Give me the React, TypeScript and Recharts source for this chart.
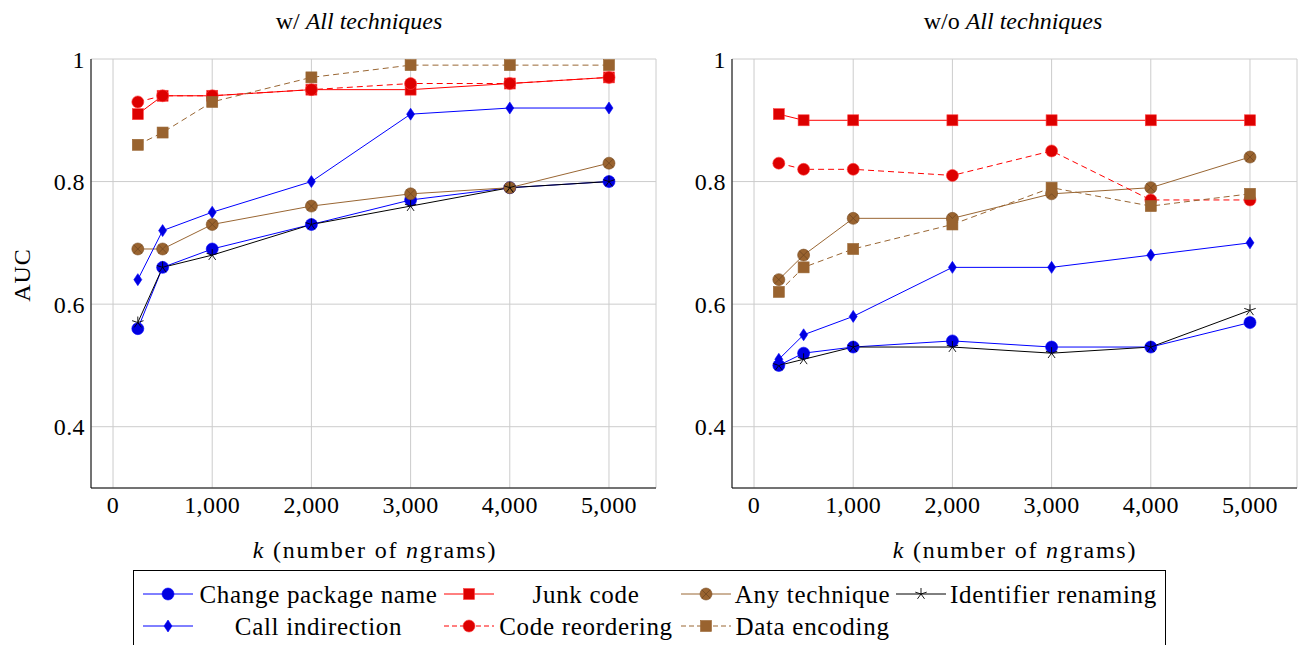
import React from "react";
import { LineChart, Line, XAxis, YAxis, CartesianGrid } from "recharts";

// k = number of n-grams (x positions of every point)
const kValues = [250, 500, 1000, 2000, 3000, 4000, 5000];
const xTicks = [0, 1000, 2000, 3000, 4000, 5000];
const yTicks = [0.4, 0.6, 0.8, 1];

// panel 1: w/ All techniques
const withChangePackage = [0.56, 0.66, 0.69, 0.73, 0.77, 0.79, 0.8];
const withJunkCode = [0.91, 0.94, 0.94, 0.95, 0.95, 0.96, 0.97];
const withAnyTechnique = [0.69, 0.69, 0.73, 0.76, 0.78, 0.79, 0.83];
const withIdentifierRenaming = [0.57, 0.66, 0.68, 0.73, 0.76, 0.79, 0.8];
const withCallIndirection = [0.64, 0.72, 0.75, 0.8, 0.91, 0.92, 0.92];
const withCodeReordering = [0.93, 0.94, 0.94, 0.95, 0.96, 0.96, 0.97];
const withDataEncoding = [0.86, 0.88, 0.93, 0.97, 0.99, 0.99, 0.99];

// panel 2: w/o All techniques
const withoutChangePackage = [0.5, 0.52, 0.53, 0.54, 0.53, 0.53, 0.57];
const withoutJunkCode = [0.91, 0.9, 0.9, 0.9, 0.9, 0.9, 0.9];
const withoutAnyTechnique = [0.64, 0.68, 0.74, 0.74, 0.78, 0.79, 0.84];
const withoutIdentifierRenaming = [0.5, 0.51, 0.53, 0.53, 0.52, 0.53, 0.59];
const withoutCallIndirection = [0.51, 0.55, 0.58, 0.66, 0.66, 0.68, 0.7];
const withoutCodeReordering = [0.83, 0.82, 0.82, 0.81, 0.85, 0.77, 0.77];
const withoutDataEncoding = [0.62, 0.66, 0.69, 0.73, 0.79, 0.76, 0.78];

const FONT = "'Liberation Serif', 'Times New Roman', serif";
const BLUE = "#0000ff";
const RED = "#ff0000";
const BROWN = "#996633";

type MarkerKind = "circle" | "square" | "otimes" | "star" | "diamond";

interface SeriesStyle {
  key: string;
  name: string;
  color: string;
  fill: string;
  marker: MarkerKind;
  dashed: boolean;
}

const seriesStyles: SeriesStyle[] = [
  { key: "changePackage", name: "Change package name", color: BLUE, fill: "#0000e0", marker: "circle", dashed: false },
  { key: "junkCode", name: "Junk code", color: RED, fill: "#dd0000", marker: "square", dashed: false },
  { key: "anyTechnique", name: "Any technique", color: BROWN, fill: "#99632f", marker: "otimes", dashed: false },
  { key: "identifierRenaming", name: "Identifier renaming", color: "#000000", fill: "#000000", marker: "star", dashed: false },
  { key: "callIndirection", name: "Call indirection", color: BLUE, fill: "#0000e0", marker: "diamond", dashed: false },
  { key: "codeReordering", name: "Code reordering", color: RED, fill: "#dd0000", marker: "circle", dashed: true },
  { key: "dataEncoding", name: "Data encoding", color: BROWN, fill: "#99632f", marker: "square", dashed: true },
];

function buildRows(cols: Record<string, number[]>) {
  return kValues.map((k, i) => {
    const row: Record<string, number> = { k };
    Object.keys(cols).forEach((key) => (row[key] = cols[key][i]));
    return row;
  });
}

const withRows = buildRows({
  changePackage: withChangePackage,
  junkCode: withJunkCode,
  anyTechnique: withAnyTechnique,
  identifierRenaming: withIdentifierRenaming,
  callIndirection: withCallIndirection,
  codeReordering: withCodeReordering,
  dataEncoding: withDataEncoding,
});

const withoutRows = buildRows({
  changePackage: withoutChangePackage,
  junkCode: withoutJunkCode,
  anyTechnique: withoutAnyTechnique,
  identifierRenaming: withoutIdentifierRenaming,
  callIndirection: withoutCallIndirection,
  codeReordering: withoutCodeReordering,
  dataEncoding: withoutDataEncoding,
});

function Marker({ cx, cy, s }: { cx: number; cy: number; s: SeriesStyle }) {
  const edge = s.color === RED ? "#ff4040" : s.color;
  switch (s.marker) {
    case "circle":
      return <circle cx={cx} cy={cy} r={6} fill={s.fill} stroke={edge} strokeWidth={0.6} />;
    case "square":
      return <rect x={cx - 5.5} y={cy - 5.5} width={11} height={11} fill={s.fill} stroke={edge} strokeWidth={0.6} />;
    case "diamond":
      return (
        <polygon
          points={`${cx},${cy - 6} ${cx + 4},${cy} ${cx},${cy + 6} ${cx - 4},${cy}`}
          fill={s.fill}
          stroke={edge}
          strokeWidth={0.6}
        />
      );
    case "otimes": {
      const d = 6 * Math.SQRT1_2;
      return (
        <g>
          <circle cx={cx} cy={cy} r={6} fill={s.fill} stroke="#7a4f26" strokeWidth={0.6} />
          <path d={`M${cx - d},${cy - d}L${cx + d},${cy + d}M${cx - d},${cy + d}L${cx + d},${cy - d}`} stroke="#6b4420" strokeWidth={0.7} />
        </g>
      );
    }
    case "star": {
      let p = "";
      for (let i = 0; i < 5; i++) {
        const a = -Math.PI / 2 + (i * 2 * Math.PI) / 5;
        p += `M${cx},${cy}L${cx + 6 * Math.cos(a)},${cy + 6 * Math.sin(a)}`;
      }
      return <path d={p} stroke="#000" strokeWidth={0.9} fill="none" />;
    }
  }
  return null;
}

const tickStyle = { fontSize: 24, fill: "#000", fontFamily: FONT, letterSpacing: 0.4 };

function Panel({ rows, left }: { rows: Record<string, number>[]; left: number }) {
  return (
    <div style={{ position: "absolute", left, top: 0 }}>
      <LineChart width={680} height={560} data={rows} margin={{ top: 59, right: 24, left: 31, bottom: 0 }}>
        <CartesianGrid stroke="#cccccc" strokeWidth={1} />
        <XAxis
          dataKey="k"
          type="number"
          domain={[-222, 5474]}
          ticks={xTicks}
          allowDataOverflow
          tickFormatter={(v: number) => v.toLocaleString("en-US")}
          tick={tickStyle}
          tickLine={false}
          tickSize={6}
          tickMargin={2}
          axisLine={{ stroke: "#000" }}
          height={72}
        />
        <XAxis xAxisId="top" orientation="top" type="number" domain={[-222, 5474]} tick={false} tickLine={false} axisLine={{ stroke: "#000" }} height={0} />
        <YAxis
          type="number"
          domain={[0.3, 1]}
          ticks={yTicks}
          allowDataOverflow
          tickFormatter={(v: number) => (v === 1 ? "1" : v.toFixed(1))}
          tick={tickStyle}
          tickLine={false}
          tickSize={4}
          tickMargin={2}
          axisLine={{ stroke: "#000" }}
          width={60}
        />
        <YAxis yAxisId="right" orientation="right" type="number" domain={[0.3, 1]} tick={false} tickLine={false} axisLine={{ stroke: "#000" }} width={0} />
        {seriesStyles.map((s) => (
          <Line
            key={s.key}
            dataKey={s.key}
            name={s.name}
            type="linear"
            stroke={s.color}
            strokeWidth={1}
            strokeDasharray={s.dashed ? "6 4" : undefined}
            isAnimationActive={false}
            dot={(p: any) => <Marker key={`${s.key}-${p.index}`} cx={p.cx} cy={p.cy} s={s} />}
            activeDot={false}
          />
        ))}
      </LineChart>
    </div>
  );
}

function LegendSample({ s }: { s: SeriesStyle }) {
  return (
    <svg width={50} height={20} style={{ position: "absolute", left: 0, top: -10 }}>
      <line x1={0} y1={10} x2={50} y2={10} stroke={s.color} strokeWidth={1} strokeDasharray={s.dashed ? "5 3" : undefined} />
      <Marker cx={25} cy={10} s={s} />
    </svg>
  );
}

// legend cells: [series index, sample left, text column left, text column width, row]
const legendCells: [number, number, number, number, number][] = [
  [0, 9, 62, 245, 0],
  [1, 310, 364, 176, 0],
  [2, 547, 600, 157, 0],
  [3, 762, 816, 206, 0],
  [4, 9, 62, 245, 1],
  [5, 310, 364, 176, 1],
  [6, 547, 600, 157, 1],
];

function Title({ x, y, spacing = 0, children }: { x: number; y: number; spacing?: number; children: React.ReactNode }) {
  return (
    <div
      style={{
        position: "absolute",
        left: x,
        top: y,
        transform: "translate(-50%, -50%)",
        whiteSpace: "nowrap",
        fontFamily: FONT,
        fontSize: 24,
        letterSpacing: spacing,
        color: "#000",
      }}
    >
      {children}
    </div>
  );
}

export default function App() {
  return (
    <div style={{ position: "fixed", left: 0, top: 0, width: 1304, height: 645, background: "#fff", overflow: "hidden" }}>
      <Panel rows={withRows} left={0} />
      <Panel rows={withoutRows} left={641} />

      <Title x={359} y={21}>
        w/ <i>All techniques</i>
      </Title>
      <Title x={1013} y={21}>
        w/o <i>All techniques</i>
      </Title>
      <Title x={375} y={550} spacing={1.8}>
        <i>k</i> (number of <i>n</i>grams)
      </Title>
      <Title x={1015} y={550} spacing={1.8}>
        <i>k</i> (number of <i>n</i>grams)
      </Title>
      <div style={{ position: "absolute", left: 22, top: 275, transform: "translate(-50%, -50%) rotate(-90deg)", fontFamily: FONT, fontSize: 24, letterSpacing: 1 }}>
        AUC
      </div>

      <div style={{ position: "absolute", left: 133, top: 570, width: 1033, height: 90, border: "1px solid #000", boxSizing: "border-box", background: "#fff" }}>
        {legendCells.map(([si, sampleLeft, textLeft, textWidth, row]) => {
          const s = seriesStyles[si];
          const cy = row === 0 ? 23 : 55;
          return (
            <React.Fragment key={s.key}>
              <div style={{ position: "absolute", left: sampleLeft, top: cy }}>
                <LegendSample s={s} />
              </div>
              <div
                style={{
                  position: "absolute",
                  left: textLeft,
                  top: cy,
                  width: textWidth,
                  transform: "translateY(-50%)",
                  textAlign: "center",
                  fontFamily: FONT,
                  fontSize: 25,
                  letterSpacing: 0.7,
                  whiteSpace: "nowrap",
                  lineHeight: 1,
                }}
              >
                {s.name}
              </div>
            </React.Fragment>
          );
        })}
      </div>
    </div>
  );
}
